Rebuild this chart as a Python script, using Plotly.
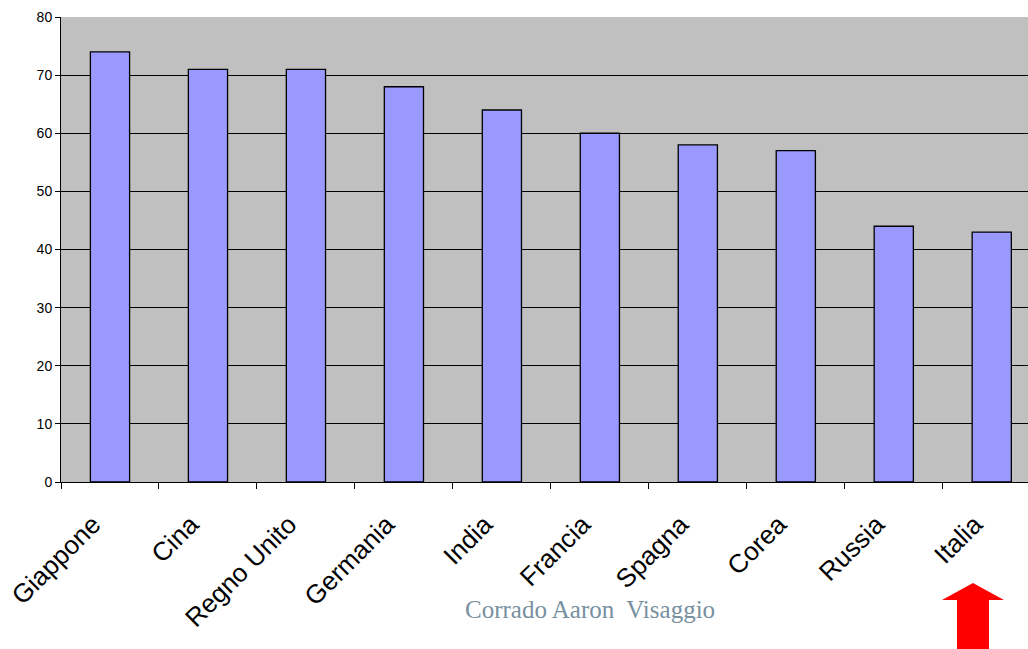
import plotly.graph_objects as go

categories = ["Giappone", "Cina", "Regno Unito", "Germania", "India",
              "Francia", "Spagna", "Corea", "Russia", "Italia"]
values = [74, 71, 71, 68, 64, 60, 58, 57, 44, 43]
y_ticks = [0, 10, 20, 30, 40, 50, 60, 70, 80]

fig = go.Figure()
fig.add_trace(go.Bar(
    x=categories, y=values, width=0.4,
    marker=dict(color="#9999FF", line=dict(color="black", width=1.3)),
))

W, H = 1028, 649
L, T, B = 61, 17, 167

fig.update_layout(
    width=W, height=H,
    margin=dict(l=L, r=0, t=T, b=B, pad=0),
    paper_bgcolor="white", plot_bgcolor="#C0C0C0",
    showlegend=False,
    bargap=0.6,
    font=dict(family="Liberation Sans, Arial, sans-serif", color="black"),
    xaxis=dict(
        type="category", range=[-0.5, 9.37],
        tickson="boundaries", ticks="outside", ticklen=6, tickcolor="black",
        tickangle=-45, tickfont=dict(size=26),
        ticklabelstandoff=16, ticklabelshift=-17,
        showline=True, linecolor="black", linewidth=1,
        showgrid=False, zeroline=False,
    ),
    yaxis=dict(
        range=[0, 80], tickvals=y_ticks, ticks="outside", ticklen=5,
        tickcolor="black", tickfont=dict(size=14),
        showline=True, linecolor="black", linewidth=1,
        showgrid=True, gridcolor="black", gridwidth=1, zeroline=False,
    ),
    shapes=[
        dict(type="path", xref="paper", yref="paper",
             path="M {} {} L {} {} L {} {} L {} {} L {} {} L {} {} L {} {} Z".format(
                 *[v for px, py in [(973, 583), (1004, 600), (989, 600), (989, 649),
                                    (957, 649), (957, 600), (942, 600)]
                   for v in ((px - L) / (W - L), (H - B - py) / (H - T - B))]),
             fillcolor="red", line=dict(width=0), layer="above"),
    ],
    annotations=[
        dict(text="Corrado Aaron  Visaggio", xref="paper", yref="paper",
             x=(590 - L) / (W - L), y=(H - B - 609) / (H - T - B),
             xanchor="center", yanchor="middle", showarrow=False,
             font=dict(family="Liberation Serif, Times New Roman, serif",
                       size=25, color="#7890A0")),
    ],
)

fig.write_html("out.html")
